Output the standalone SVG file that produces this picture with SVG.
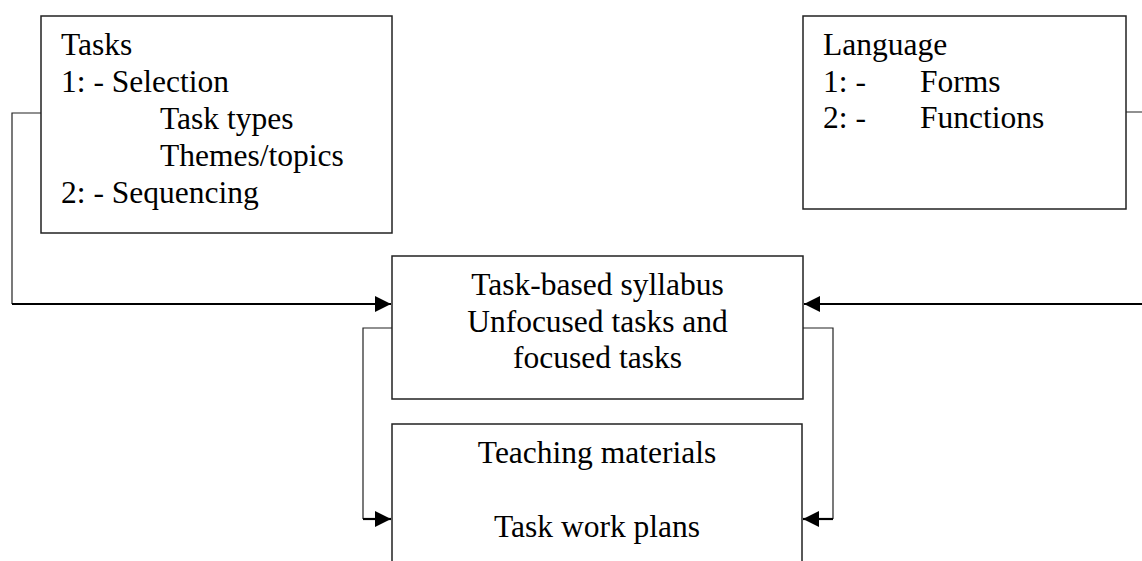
<svg xmlns="http://www.w3.org/2000/svg" width="1142" height="561" viewBox="0 0 1142 561">
<style>
.box{fill:#fff;stroke:#222;stroke-width:1.5}
.t{font-family:"Liberation Serif","Times New Roman",serif;font-size:31.5px;fill:#000}
.c{text-anchor:middle}
.thin{fill:none;stroke:#222;stroke-width:1.2}
.thick{fill:none;stroke:#000;stroke-width:2.2}
</style>
<defs>
<marker id="ah" markerWidth="16" markerHeight="16" viewBox="0 0 16 16" refX="16" refY="8" orient="auto" markerUnits="userSpaceOnUse">
<path d="M0,0 L16,8 L0,16 Z" fill="#000"/>
</marker>
</defs>
<g id="connectors">
<polyline class="thin" points="41,113 12,113 12,304"/>
<line class="thick" x1="12" y1="304" x2="391" y2="304" marker-end="url(#ah)"/>
<polyline class="thin" points="1126,112 1145,112 1145,303"/>
<line class="thick" x1="1145" y1="304" x2="804" y2="304" marker-end="url(#ah)"/>
<polyline class="thin" points="392,328 363,328 363,519"/>
<line class="thick" x1="363" y1="519" x2="391" y2="519" marker-end="url(#ah)"/>
<polyline class="thin" points="803,328 833,328 833,519"/>
<line class="thick" x1="833" y1="519" x2="803" y2="519" marker-end="url(#ah)"/>
</g>
<g id="tasks">
<rect class="box" x="41" y="16" width="351" height="217"/>
<text class="t" x="61" y="55">Tasks</text>
<text class="t" x="61" y="92">1: - Selection</text>
<text class="t" x="160" y="129">Task types</text>
<text class="t" x="160" y="166">Themes/topics</text>
<text class="t" x="61" y="203">2: - Sequencing</text>
</g>
<g id="language">
<rect class="box" x="803" y="16" width="323" height="193"/>
<text class="t" x="823" y="55">Language</text>
<text class="t" x="823" y="92">1: -</text>
<text class="t" x="920" y="92">Forms</text>
<text class="t" x="823" y="128">2: -</text>
<text class="t" x="920" y="128">Functions</text>
</g>
<g id="syllabus">
<rect class="box" x="392" y="256" width="411" height="143"/>
<text class="t c" x="597.5" y="295">Task-based syllabus</text>
<text class="t c" x="597.5" y="332">Unfocused tasks and</text>
<text class="t c" x="597.5" y="368">focused tasks</text>
</g>
<g id="teaching">
<rect class="box" x="392" y="424" width="410" height="150"/>
<text class="t c" x="597" y="463">Teaching materials</text>
<text class="t c" x="597" y="537">Task work plans</text>
</g>
</svg>
